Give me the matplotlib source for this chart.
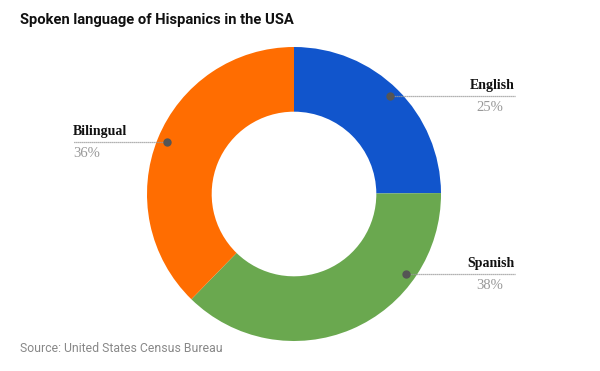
import numpy as np
import matplotlib
matplotlib.use('Agg')
import matplotlib.pyplot as plt

languages = ['English', 'Spanish', 'Bilingual']
shares = [24.9, 37.4, 37.7]
pct_labels = ['25%', '38%', '36%']
colors = ['#1155cc', '#6aa84f', '#ff6d01']

fig = plt.figure(figsize=(6, 3.71), dpi=100)
# axe carré centré sur le donut (centre ~ (294,194) px, rayon ~147 px)
cx, cy, R = 294, 194, 147
ax = fig.add_axes([(cx - R) / 600, 1 - (cy + R) / 371, 2 * R / 600, 2 * R / 371])
ax.pie(shares, colors=colors, startangle=90, counterclock=False,
       wedgeprops=dict(width=0.44, edgecolor='none'))
ax.set_xlim(-1, 1)
ax.set_ylim(-1, 1)
ax.set_aspect('equal')
ax.axis('off')

# angles des points d'ancrage des étiquettes (mise en page)
pointer_angles = {'English': 45.6, 'Spanish': -35.6, 'Bilingual': 157.9}
r_dot = 0.935
x_edge = 1.503

for name, pct in zip(languages, pct_labels):
    a = np.radians(pointer_angles[name])
    xd, yd = r_dot * np.cos(a), r_dot * np.sin(a)
    side = 1 if xd > 0 else -1
    xe = side * x_edge
    ax.plot([xd, xe], [yd, yd], color='#999999', lw=0.9, ls=(0, (1, 0.6)),
            clip_on=False, zorder=3)
    ax.plot([xd], [yd], 'o', color='#555555', ms=5, clip_on=False, zorder=4)
    ha = 'right' if side > 0 else 'left'
    ax.annotate(name, (xe, yd), xytext=(0, 7.5), textcoords='offset points',
                ha=ha, va='center', fontsize=10, fontweight='bold',
                family='Liberation Serif', color='#111111', annotation_clip=False)
    dx = -8.6 if side > 0 else 0
    ax.annotate(pct, (xe, yd), xytext=(dx, -8.3), textcoords='offset points',
                ha=ha, va='center', fontsize=10.5,
                family='Liberation Serif', color='#999999', annotation_clip=False)

fig.text(20 / 600, 1 - 20 / 371, 'Spoken language of Hispanics in the USA',
         fontsize=10.6, fontweight='bold', family='Roboto', color='#111111',
         ha='left', va='center')
fig.text(20 / 600, 1 - 348 / 371, 'Source: United States Census Bureau',
         fontsize=8.8, family='Roboto', color='#888888', ha='left', va='center')

fig.savefig('out.png', dpi=100)
